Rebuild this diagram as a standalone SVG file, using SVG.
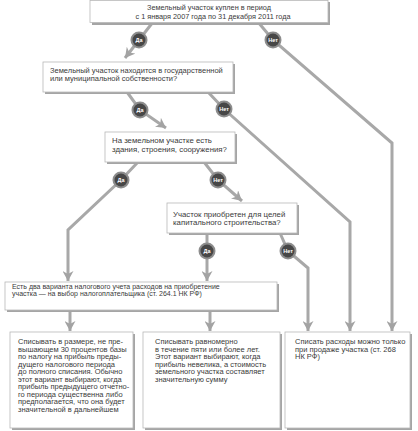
<svg xmlns="http://www.w3.org/2000/svg" width="418" height="431" viewBox="0 0 418 431">
<defs>
<marker id="ah" markerUnits="userSpaceOnUse" markerWidth="11" markerHeight="11" refX="10" refY="5.5" orient="auto" viewBox="0 0 11 11">
<path d="M0,0 L10,5.5 L0,11 L3,5.5 z" fill="#a3a3a3"/>
</marker>
</defs>
<style>
.sh{fill:#a5a5a5}
.box{fill:#fff;stroke:#b8b8b8;stroke-width:0.8}
.t{font-family:"Liberation Sans",Arial,sans-serif;font-size:7.5px;fill:#3a3a3a}
.q1{font-size:7.3px}
.q3{font-size:7.8px}
.s{font-size:7px}
.b{font-size:7.5px}
.con{fill:none;stroke:#a8a8a8;stroke-width:3}
.ring{fill:#8d8d8d}
.dot{fill:#474747}
.lb{font-family:"Liberation Sans",Arial,sans-serif;font-size:5.5px;font-weight:bold;fill:#fff;text-anchor:middle}
</style>
<rect width="418" height="431" fill="#fff"/>

<g id="connectors">
<path class="con" d="M153,22 L139,40 L125,58" marker-end="url(#ah)"/>
<path class="con" d="M258,22 L273,40 L392,143 L392,331" marker-end="url(#ah)"/>
<path class="con" d="M127,92 L140,110 L166,128" marker-end="url(#ah)"/>
<path class="con" d="M208,92 L224,109 L350,222 L350,331" marker-end="url(#ah)"/>
<path class="con" d="M138,162 L121,180 L68,230 L68,281" marker-end="url(#ah)"/>
<path class="con" d="M204,162 L218,180 L242,201" marker-end="url(#ah)"/>
<path class="con" d="M207,233 L207,281" marker-end="url(#ah)"/>
<path class="con" d="M280,233 L288,251 L308,268 L308,331" marker-end="url(#ah)"/>
<path class="con" d="M70,310 L70,331" marker-end="url(#ah)"/>
<path class="con" d="M210,310 L210,331" marker-end="url(#ah)"/>
</g>

<g id="labels">
<g><circle class="ring" cx="139" cy="40" r="8.5"/><circle class="dot" cx="139" cy="40" r="6.5"/><text class="lb" x="139" y="42">Да</text></g>
<g><circle class="ring" cx="273" cy="40" r="8.5"/><circle class="dot" cx="273" cy="40" r="6.5"/><text class="lb" x="273" y="42">Нет</text></g>
<g><circle class="ring" cx="140" cy="110" r="8.5"/><circle class="dot" cx="140" cy="110" r="6.5"/><text class="lb" x="140" y="112">Да</text></g>
<g><circle class="ring" cx="224" cy="109" r="8.5"/><circle class="dot" cx="224" cy="109" r="6.5"/><text class="lb" x="224" y="111">Нет</text></g>
<g><circle class="ring" cx="121" cy="180" r="8.5"/><circle class="dot" cx="121" cy="180" r="6.5"/><text class="lb" x="121" y="182">Да</text></g>
<g><circle class="ring" cx="218" cy="180" r="8.5"/><circle class="dot" cx="218" cy="180" r="6.5"/><text class="lb" x="218" y="182">Нет</text></g>
<g><circle class="ring" cx="207" cy="251" r="8.5"/><circle class="dot" cx="207" cy="251" r="6.5"/><text class="lb" x="207" y="253">Да</text></g>
<g><circle class="ring" cx="288" cy="251" r="8.5"/><circle class="dot" cx="288" cy="251" r="6.5"/><text class="lb" x="288" y="253">Нет</text></g>
</g>

<g id="q1">
<rect class="sh" x="92" y="2" width="238" height="23"/>
<rect class="box" x="90" y="0.5" width="238" height="22"/>
<text class="t q1" x="209" y="10" text-anchor="middle">Земельный участок куплен в период</text>
<text class="t q1" x="213" y="19" text-anchor="middle">с 1 января 2007 года по 31 декабря 2011 года</text>
</g>

<g id="q2">
<rect class="sh" x="45" y="64" width="190" height="30"/>
<rect class="box" x="43" y="62" width="190" height="30"/>
<text class="t" x="50" y="72.5">Земельный участок находится в государственной</text>
<text class="t" x="50" y="81">или муниципальной собственности?</text>
</g>

<g id="q3">
<rect class="sh" x="107" y="134" width="130" height="30"/>
<rect class="box" x="105" y="132" width="130" height="30"/>
<text class="t q3" x="112" y="143">На земельном участке есть</text>
<text class="t q3" x="112" y="152">здания, строения, сооружения?</text>
</g>

<g id="q4">
<rect class="sh" x="169" y="205" width="130" height="30"/>
<rect class="box" x="167" y="203" width="130" height="30"/>
<text class="t q3" x="173" y="216.5">Участок приобретен для целей</text>
<text class="t q3" x="173" y="224.5">капитального строительства?</text>
</g>

<g id="choice">
<rect class="sh" x="7" y="284" width="272" height="28"/>
<rect class="box" x="5" y="282" width="272" height="28"/>
<text class="t s" x="12" y="288.5">Есть два варианта налогового учета расходов на приобретение</text>
<text class="t s" x="12" y="296">участка — на выбор налогоплательщика (ст. 264.1 НК РФ)</text>
</g>

<g id="optA">
<rect class="sh" x="12" y="334" width="123" height="96"/>
<rect class="box" x="10" y="332" width="123" height="96"/>
<text class="t b" x="18" y="344.2">Списывать в размере, не пре-</text>
<text class="t b" x="18" y="351.7">вышающем 30 процентов базы</text>
<text class="t b" x="18" y="359.2">по налогу на прибыль преды-</text>
<text class="t b" x="18" y="366.7">дущего налогового периода</text>
<text class="t b" x="18" y="374.2">до полного списания. Обычно</text>
<text class="t b" x="18" y="381.7">этот вариант выбирают, когда</text>
<text class="t b" x="18" y="389.2">прибыль предыдущего отчетно-</text>
<text class="t b" x="18" y="396.7">го периода существенна либо</text>
<text class="t b" x="18" y="404.2">предполагается, что она будет</text>
<text class="t b" x="18" y="411.7">значительной в дальнейшем</text>
</g>

<g id="optB">
<rect class="sh" x="145" y="334" width="137" height="96"/>
<rect class="box" x="143" y="332" width="137" height="96"/>
<text class="t b" x="155" y="344.2">Списывать равномерно</text>
<text class="t b" x="155" y="351.7">в течение пяти или более лет.</text>
<text class="t b" x="155" y="359.2">Этот вариант выбирают, когда</text>
<text class="t b" x="155" y="366.7">прибыль невелика, а стоимость</text>
<text class="t b" x="155" y="374.2">земельного участка составляет</text>
<text class="t b" x="155" y="381.7">значительную сумму</text>
</g>

<g id="optC">
<rect class="sh" x="287" y="334" width="125" height="96"/>
<rect class="box" x="285" y="332" width="125" height="96"/>
<text class="t b" x="295" y="344.2">Списать расходы можно только</text>
<text class="t b" x="295" y="351.7">при продаже участка (ст. 268</text>
<text class="t b" x="295" y="359.2">НК РФ)</text>
</g>
</svg>
